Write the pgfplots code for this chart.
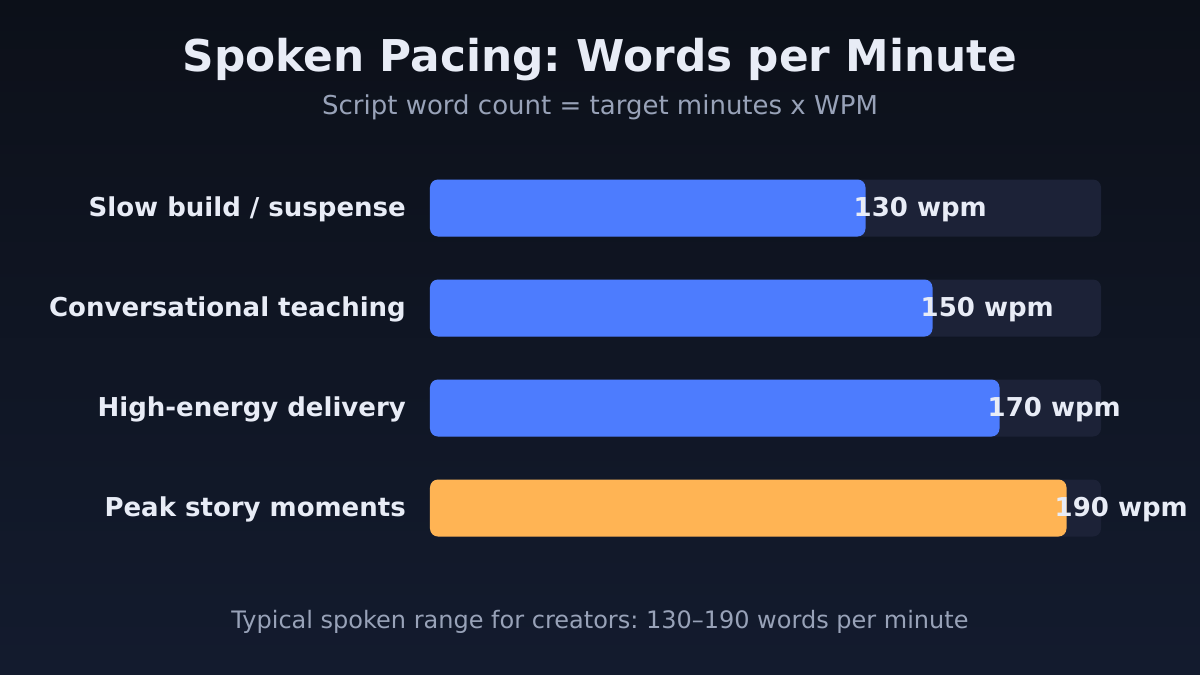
\documentclass[border=0pt]{standalone}
\usepackage{pgfplots}
\pgfplotsset{compat=1.18}
\usepackage{fontspec}
\setmainfont{DejaVu Sans}
\frenchspacing
\definecolor{bgtop}{HTML}{0C1019}
\definecolor{bgbot}{HTML}{131B2E}
\definecolor{track}{HTML}{1C2237}
\definecolor{barblue}{HTML}{4D7CFE}
\definecolor{barorange}{HTML}{FFB454}
\definecolor{txt}{HTML}{E8ECF6}
\definecolor{subtxt}{HTML}{98A2B8}
\newcommand{\fs}[1]{\fontsize{#1}{#1}\selectfont}
\begin{document}
\begin{tikzpicture}[x=1pt,y=1pt]
\shade[top color=bgtop, bottom color=bgbot] (0,0) rectangle (1200,675);
\node[text=txt, font=\bfseries\fs{43.8}] at (600,615.5) {Spoken Pacing: Words per Minute};
\node[text=subtxt, font=\fs{26}] at (600,568) {Script word count = target minutes x WPM};
\node[text=subtxt, font=\fs{24}] at (600,53) {Typical spoken range for creators: 130–190 words per minute};
\begin{axis}[
  at={(430pt,117pt)}, anchor=south west,
  width=671pt, height=400pt, scale only axis,
  xmin=0, xmax=200.3, ymin=-0.5, ymax=3.5, y dir=reverse,
  axis line style={draw=none}, tick style={draw=none},
  xtick=\empty,
  ytick={0,1,2,3},
  yticklabels={Slow build / suspense, Conversational teaching, High-energy delivery, Peak story moments},
  yticklabel style={font=\bfseries\fs{26}, text=txt, inner sep=0pt, xshift=-24pt, yshift=-1.5pt},
  /pgf/number format/assume math mode=true,
  clip=false,
]
\addplot[xbar, bar width=57pt, bar shift=0pt, fill=track, draw=none, rounded corners=8pt]
  coordinates {(200.3,0) (200.3,1) (200.3,2) (200.3,3)};
\addplot[xbar, bar width=57pt, bar shift=0pt, fill=barblue, draw=none, rounded corners=8pt,
  nodes near coords={\pgfmathprintnumber{\pgfplotspointmeta} wpm},
  every node near coord/.append style={anchor=west, xshift=-12pt, yshift=-1.5pt, inner sep=0pt, font=\bfseries\fs{26}, text=txt}]
  coordinates {(130,0) (150,1) (170,2)};
\addplot[xbar, bar width=57pt, bar shift=0pt, fill=barorange, draw=none, rounded corners=8pt,
  nodes near coords={\pgfmathprintnumber{\pgfplotspointmeta} wpm},
  every node near coord/.append style={anchor=west, xshift=-12pt, yshift=-1.5pt, inner sep=0pt, font=\bfseries\fs{26}, text=txt}]
  coordinates {(190,3)};
\end{axis}
\end{tikzpicture}
\end{document}
